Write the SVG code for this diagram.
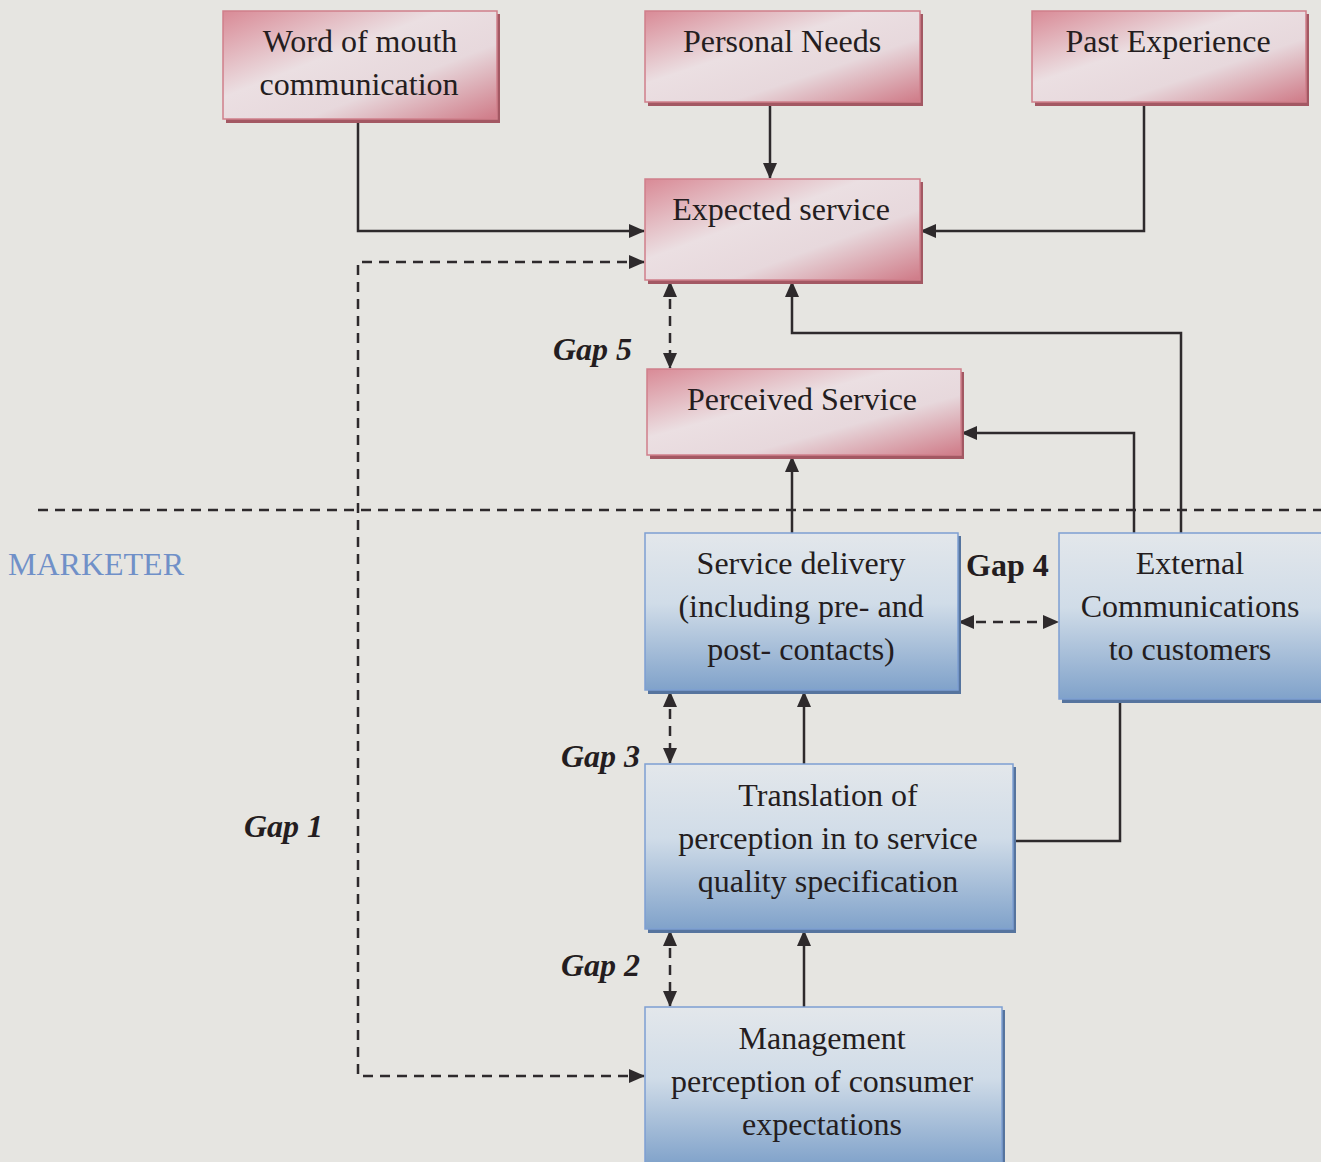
<svg xmlns="http://www.w3.org/2000/svg" width="1321" height="1162" viewBox="0 0 1321 1162">
<style>
.t{font-family:"Liberation Serif","Times New Roman",serif;font-size:32px;fill:#241d20;text-anchor:middle}
.g{font-family:"Liberation Serif","Times New Roman",serif;font-size:32px;fill:#241d20;font-weight:bold;font-style:italic}
.g4{font-family:"Liberation Serif","Times New Roman",serif;font-size:32px;fill:#241d20;font-weight:bold}
.pk{fill:url(#pinkG);stroke:#cf7f8b;stroke-width:1.5}
.pks{fill:#a35863}
.bl{fill:url(#blueG);stroke:#7e9fd2;stroke-width:1.5}
.bls{fill:#56749e}
.ln{fill:none;stroke:#2e2a2c;stroke-width:2.5}
.ds{fill:none;stroke:#2e2a2c;stroke-width:2.5;stroke-dasharray:10 7}
.ar{marker-end:url(#ah)}
.dd{marker-start:url(#ah);marker-end:url(#ah)}
</style>
<defs>
<linearGradient id="pinkG" x1="0" y1="0" x2="1" y2="1">
<stop offset="0" stop-color="#d98a96"/>
<stop offset="0.4" stop-color="#ebdfe2"/>
<stop offset="0.65" stop-color="#e7d8dc"/>
<stop offset="1" stop-color="#cf7a87"/>
</linearGradient>
<linearGradient id="blueG" x1="0" y1="0" x2="0" y2="1">
<stop offset="0" stop-color="#e3e7eb"/>
<stop offset="0.45" stop-color="#d0dce8"/>
<stop offset="1" stop-color="#80a2ca"/>
</linearGradient>
<marker id="ah" viewBox="0 0 16 14" refX="15" refY="7" markerWidth="16" markerHeight="14" markerUnits="userSpaceOnUse" orient="auto-start-reverse">
<path d="M0,0 L16,7 L0,14 Z" fill="#2e2a2c"/>
</marker>
</defs>
<rect width="1321" height="1162" fill="#e6e5e1"/>

<g id="connectors">
<line class="ds" x1="38" y1="510" x2="1321" y2="510"/>
<polyline class="ln ar" points="358,120 358,231 644,231"/>
<polyline class="ln ar" points="770,103 770,178"/>
<polyline class="ln ar" points="1144,103 1144,231 921,231"/>
<polyline class="ds" points="644,262 358,262 358,1076 644,1076" style="marker-start:url(#ah);marker-end:url(#ah)"/>
<line class="ds dd" x1="670" y1="282" x2="670" y2="368"/>
<polyline class="ln ar" points="792,533 792,457"/>
<polyline class="ln ar" points="1181,533 1181,333 792,333 792,282"/>
<polyline class="ln ar" points="1134,533 1134,433 962,433"/>
<line class="ds dd" x1="959" y1="622" x2="1058" y2="622"/>
<line class="ds dd" x1="670" y1="692" x2="670" y2="763"/>
<polyline class="ln ar" points="804,764 804,692"/>
<polyline class="ln" points="1013,841 1120,841 1120,701"/>
<line class="ds dd" x1="670" y1="931" x2="670" y2="1006"/>
<polyline class="ln ar" points="804,1007 804,931"/>
</g>

<g id="word-of-mouth">
<rect class="pks" x="226" y="14" width="274" height="109"/>
<rect class="pk" x="223" y="11" width="274" height="108"/>
<text class="t" x="360" y="52">Word of mouth</text>
<text class="t" x="359" y="95">communication</text>
</g>
<g id="personal-needs">
<rect class="pks" x="648" y="14" width="275" height="92"/>
<rect class="pk" x="645" y="11" width="275" height="91"/>
<text class="t" x="782" y="52">Personal Needs</text>
</g>
<g id="past-experience">
<rect class="pks" x="1035" y="14" width="274" height="92"/>
<rect class="pk" x="1032" y="11" width="274" height="91"/>
<text class="t" x="1168" y="52">Past Experience</text>
</g>
<g id="expected-service">
<rect class="pks" x="648" y="182" width="275" height="102"/>
<rect class="pk" x="645" y="179" width="275" height="101"/>
<text class="t" x="781" y="220">Expected service</text>
</g>
<g id="perceived-service">
<rect class="pks" x="650" y="372" width="314" height="87"/>
<rect class="pk" x="647" y="369" width="314" height="86"/>
<text class="t" x="802" y="410">Perceived Service</text>
</g>
<g id="service-delivery">
<rect class="bls" x="648" y="536" width="313" height="158"/>
<rect class="bl" x="645" y="533" width="313" height="157"/>
<text class="t" x="801" y="574">Service delivery</text>
<text class="t" x="801" y="617">(including pre- and</text>
<text class="t" x="801" y="660">post- contacts)</text>
</g>
<g id="external-communications">
<rect class="bls" x="1062" y="536" width="262" height="167"/>
<rect class="bl" x="1059" y="533" width="265" height="166"/>
<text class="t" x="1190" y="574">External</text>
<text class="t" x="1190" y="617">Communications</text>
<text class="t" x="1190" y="660">to customers</text>
</g>
<g id="translation">
<rect class="bls" x="648" y="767" width="368" height="166"/>
<rect class="bl" x="645" y="764" width="368" height="165"/>
<text class="t" x="828" y="806">Translation of</text>
<text class="t" x="828" y="849">perception in to service</text>
<text class="t" x="828" y="892">quality specification</text>
</g>
<g id="management">
<rect class="bls" x="648" y="1010" width="357" height="155"/>
<rect class="bl" x="645" y="1007" width="357" height="158"/>
<text class="t" x="822" y="1049">Management</text>
<text class="t" x="822" y="1092">perception of consumer</text>
<text class="t" x="822" y="1135">expectations</text>
</g>

<g id="labels">
<text class="g" x="553" y="360">Gap 5</text>
<text class="g4" x="966" y="576">Gap 4</text>
<text class="g" x="561" y="767">Gap 3</text>
<text class="g" x="244" y="837">Gap 1</text>
<text class="g" x="561" y="976">Gap 2</text>
<text x="8" y="575" style="font-family:'Liberation Serif','Times New Roman',serif;font-size:32px;fill:#7090c8">MARKETER</text>
</g>
</svg>
